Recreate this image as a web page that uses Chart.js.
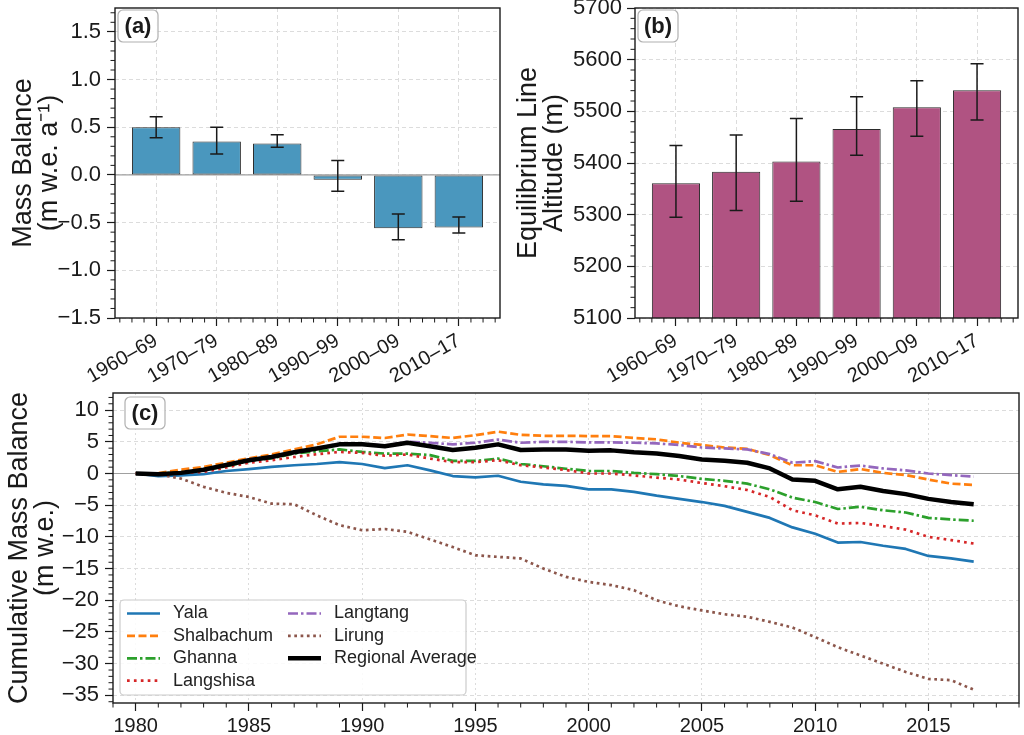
<!DOCTYPE html>
<html>
<head>
<meta charset="utf-8">
<script src="https://cdn.jsdelivr.net/npm/chart.js@4.4.0/dist/chart.umd.min.js"></script>
<style>
  body { margin: 0; background: #fff; width: 1024px; height: 735px; overflow: hidden; position: relative; }
  canvas { position: absolute; }
</style>
</head>
<body>
<canvas id="chartA" width="512" height="385" style="left:0;top:0"></canvas>
<canvas id="chartB" width="512" height="385" style="left:512px;top:0"></canvas>
<canvas id="chartC" width="1024" height="350" style="left:0;top:385px"></canvas>
<script>
// ---------- data ----------
var decades = ['1960–69', '1970–79', '1980–89', '1990–99', '2000–09', '2010–17'];
var decadePos = [0, 1, 2, 3, 4, 5];

// (a) decadal mass balance + error range
var massBalance = [0.50, 0.35, 0.33, -0.05, -0.56, -0.55];
var massBalanceLow = [0.39, 0.22, 0.29, -0.17, -0.68, -0.61];
var massBalanceHigh = [0.61, 0.50, 0.42, 0.15, -0.41, -0.44];

// (b) equilibrium line altitude + error range
var ela = [5361, 5383, 5403, 5466, 5508, 5541];
var elaLow = [5295, 5308, 5326, 5415, 5452, 5483];
var elaHigh = [5434, 5454, 5486, 5528, 5559, 5592];

// tick labels
var mbTicks = [-1.5, -1.0, -0.5, 0.0, 0.5, 1.0, 1.5];
var elaTicks = [5100, 5200, 5300, 5400, 5500, 5600, 5700];
var cumTicks = [-35, -30, -25, -20, -15, -10, -5, 0, 5, 10];
var yearTicks = [1980, 1985, 1990, 1995, 2000, 2005, 2010, 2015];

// (c) cumulative mass balance per glacier
var years = [1980, 1981, 1982, 1983, 1984, 1985, 1986, 1987, 1988, 1989,
             1990, 1991, 1992, 1993, 1994, 1995, 1996, 1997, 1998, 1999,
             2000, 2001, 2002, 2003, 2004, 2005, 2006, 2007, 2008, 2009,
             2010, 2011, 2012, 2013, 2014, 2015, 2016, 2017];
var yala = [0, -0.4, -0.3, -0.1, 0.4, 0.7, 1.05, 1.3, 1.5, 1.8,
            1.5, 0.85, 1.3, 0.5, -0.4, -0.6, -0.35, -1.3, -1.7, -1.95,
            -2.5, -2.5, -2.9, -3.5, -4.0, -4.5, -5.1, -6.05, -7.0, -8.5,
            -9.5, -10.9, -10.8, -11.4, -11.9, -13.0, -13.4, -13.9];
var shalbachum = [0, 0.05, 0.6, 1.05, 1.7, 2.4, 3.0, 3.8, 4.6, 5.8,
                  5.8, 5.6, 6.15, 5.9, 5.6, 6.05, 6.6, 6.1, 5.95, 5.95,
                  5.9, 5.9, 5.6, 5.4, 4.85, 4.5, 4.1, 3.9, 2.9, 1.3,
                  1.3, 0.25, 0.7, 0.1, -0.25, -0.95, -1.6, -1.8];
var ghanna = [0, 0, 0.2, 0.5, 1.15, 2.0, 2.4, 3.15, 3.5, 3.8,
              3.4, 3.15, 3.15, 2.9, 2.0, 2.0, 2.35, 1.5, 1.15, 0.75,
              0.4, 0.4, 0.1, -0.1, -0.4, -0.85, -1.15, -1.6, -2.5, -3.8,
              -4.5, -5.6, -5.25, -5.8, -6.15, -7.0, -7.25, -7.45];
var langshisa = [0, 0, 0.1, 0.25, 0.95, 1.7, 2.1, 2.6, 3.05, 3.4,
                 3.25, 2.8, 3.0, 2.35, 1.8, 1.8, 2.1, 1.3, 0.95, 0.55,
                 0, 0, -0.3, -0.65, -0.95, -1.5, -2.0, -2.6, -3.7, -5.8,
                 -6.6, -7.9, -7.8, -8.3, -8.85, -10.0, -10.5, -11.05];
var langtang = [0, -0.1, 0.1, 0.6, 1.4, 2.2, 2.7, 3.4, 4.0, 4.7,
                4.7, 4.4, 5.0, 4.85, 4.6, 4.85, 5.35, 4.85, 5.0, 5.0,
                4.9, 4.9, 4.85, 4.75, 4.5, 4.1, 3.95, 3.8, 3.05, 1.7,
                1.95, 0.95, 1.25, 0.8, 0.5, 0, -0.25, -0.5];
var lirung = [0, -0.1, -0.8, -2.1, -3.05, -3.7, -4.75, -4.85, -6.6, -8.15,
              -8.95, -8.75, -9.2, -10.4, -11.6, -12.9, -13.15, -13.4, -15.0, -16.3,
              -17.1, -17.6, -18.4, -20.0, -20.95, -21.6, -22.2, -22.6, -23.4, -24.3,
              -25.8, -27.4, -28.7, -30.0, -31.3, -32.4, -32.6, -34.1];
var regional = [0, -0.1, 0.1, 0.6, 1.35, 2.1, 2.6, 3.35, 3.95, 4.6,
                4.6, 4.3, 4.85, 4.3, 3.7, 4.05, 4.6, 3.7, 3.8, 3.8,
                3.6, 3.65, 3.35, 3.15, 2.75, 2.2, 2.0, 1.7, 0.8, -0.95,
                -1.15, -2.5, -2.1, -2.75, -3.25, -4.0, -4.5, -4.85];

// ---------- common stuff ----------
var FONT = '"Liberation Sans", Arial, sans-serif';
Chart.defaults.font.family = FONT;
Chart.defaults.color = '#1a1a1a';

// number with real minus sign like matplotlib
function fmtMinus(v, digits) {
    var s = Math.abs(v).toFixed(digits);
    return v < 0 ? '\u2212' + s : s;
}

// turn a list of values into tick objects
function setTicks(list) {
    return function (scale) {
        scale.ticks = list.map(function (v) { return { value: v }; });
    };
}

// box around axes, zero line, minor ticks, panel letter
var framePlugin = {
    id: 'frame',
    beforeDatasetsDraw: function (chart, args, opts) {
        if (!opts.zeroLine) return;
        var ctx = chart.ctx, a = chart.chartArea;
        var y0 = chart.scales.y.getPixelForValue(0);
        ctx.save();
        ctx.strokeStyle = '#a0a0a0';
        ctx.lineWidth = 1.2;
        ctx.beginPath();
        ctx.moveTo(a.left, y0);
        ctx.lineTo(a.right, y0);
        ctx.stroke();
        ctx.restore();
    },
    afterDraw: function (chart, args, opts) {
        var ctx = chart.ctx, a = chart.chartArea;
        ctx.save();
        ctx.strokeStyle = '#1a1a1a';
        ctx.lineWidth = 1.4;
        ctx.strokeRect(a.left, a.top, a.right - a.left, a.bottom - a.top);

        // minor ticks
        ctx.lineWidth = 1;
        ['x', 'y'].forEach(function (id) {
            var sc = chart.scales[id];
            var step = opts.minor[id], major = opts.major[id];
            var k0 = Math.ceil(sc.min / step - 1e-9), k1 = Math.floor(sc.max / step + 1e-9);
            for (var k = k0; k <= k1; k++) {
                var v = k * step;
                var r = v / major;
                if (Math.abs(r - Math.round(r)) < 1e-6) continue;
                var p = sc.getPixelForValue(v);
                ctx.beginPath();
                if (id === 'x') { ctx.moveTo(p, a.bottom); ctx.lineTo(p, a.bottom + 4.5); }
                else { ctx.moveTo(a.left, p); ctx.lineTo(a.left - 4.5, p); }
                ctx.stroke();
            }
        });

        // panel letter in a rounded box
        var bx = a.left + opts.label.dx, by = a.top + opts.label.dy;
        ctx.beginPath();
        ctx.roundRect(bx, by, 40, 32, 5);
        ctx.fillStyle = 'rgba(255,255,255,0.9)';
        ctx.fill();
        ctx.strokeStyle = '#b0b0b0';
        ctx.lineWidth = 1.2;
        ctx.stroke();
        ctx.fillStyle = '#1a1a1a';
        ctx.font = 'bold 22px ' + FONT;
        ctx.textAlign = 'center';
        ctx.textBaseline = 'middle';
        ctx.fillText(opts.label.text, bx + 20, by + 17);
        ctx.restore();
    }
};

// error bars, limits stored on the dataset (errLow / errHigh)
var errorBarPlugin = {
    id: 'errorBars',
    afterDatasetsDraw: function (chart) {
        var ds = chart.data.datasets[0];
        if (!ds.errLow) return;
        var meta = chart.getDatasetMeta(0), ys = chart.scales.y, ctx = chart.ctx;
        ctx.save();
        ctx.strokeStyle = '#1a1a1a';
        ctx.lineWidth = 1.5;
        meta.data.forEach(function (bar, i) {
            var yl = ys.getPixelForValue(ds.errLow[i]);
            var yh = ys.getPixelForValue(ds.errHigh[i]);
            ctx.beginPath();
            ctx.moveTo(bar.x, yl); ctx.lineTo(bar.x, yh);
            ctx.moveTo(bar.x - 6.5, yl); ctx.lineTo(bar.x + 6.5, yl);
            ctx.moveTo(bar.x - 6.5, yh); ctx.lineTo(bar.x + 6.5, yh);
            ctx.stroke();
        });
        ctx.restore();
    }
};

// legend inside the plot, two columns (matplotlib style)
var boxLegendPlugin = {
    id: 'boxLegend',
    afterDraw: function (chart) {
        var ctx = chart.ctx, a = chart.chartArea;
        var bx = a.left + 7, by = a.bottom - 103, bw = 346, bh = 95;
        ctx.save();
        ctx.beginPath();
        ctx.roundRect(bx, by, bw, bh, 4);
        ctx.fillStyle = 'rgba(255,255,255,0.85)';
        ctx.fill();
        ctx.strokeStyle = '#cccccc';
        ctx.lineWidth = 1.2;
        ctx.stroke();
        ctx.font = '18px ' + FONT;
        ctx.textBaseline = 'middle';
        ctx.textAlign = 'left';
        chart.data.datasets.forEach(function (ds, i) {
            var col = i < 4 ? 0 : 1, row = i < 4 ? i : i - 4;
            var x = bx + 7 + col * 161, y = by + 13.5 + row * 22.4;
            ctx.save();
            ctx.strokeStyle = ds.borderColor;
            ctx.lineWidth = ds.borderWidth;
            ctx.setLineDash(ds.borderDash || []);
            ctx.beginPath();
            ctx.moveTo(x, y);
            ctx.lineTo(x + 33, y);
            ctx.stroke();
            ctx.restore();
            ctx.fillStyle = '#222';
            ctx.fillText(ds.label, x + 46, y);
        });
        ctx.restore();
    }
};

var gridOpts = { color: '#dcdcdc', lineWidth: 1, tickColor: '#1a1a1a', tickLength: 8, tickWidth: 1.2, tickBorderDash: [] };
var borderOpts = { display: false, dash: [4, 3] };

// x axis for the two decade bar panels
function decadeAxis(canvasH) {
    return {
        type: 'linear', min: -0.68, max: 5.68, offset: false,
        afterBuildTicks: setTicks(decadePos),
        ticks: {
            callback: function (v) { return decades[v]; },
            minRotation: 30, maxRotation: 30, autoSkip: false,
            font: { size: 20 }, padding: 3, color: '#1a1a1a'
        },
        grid: Object.assign({ offset: false }, gridOpts),
        border: borderOpts,
        afterFit: function (s) { s.height = canvasH - 318; s.paddingLeft = 0; s.paddingRight = 0; }
    };
}

// ---------- (a) mass balance ----------
function chartMassBalance() {
    var ctx = document.getElementById('chartA').getContext('2d');
    new Chart(ctx, {
        type: 'bar',
        data: {
            datasets: [{
                data: decadePos.map(function (p, i) { return { x: p, y: massBalance[i] }; }),
                errLow: massBalanceLow,
                errHigh: massBalanceHigh,
                backgroundColor: '#4a97be',
                borderColor: '#2a2a2a',
                borderWidth: 1,
                borderSkipped: false,
                barPercentage: 0.8,
                categoryPercentage: 1
            }]
        },
        options: {
            responsive: false, animation: false, events: [],
            layout: { padding: { top: 8, right: 12, left: 0, bottom: 0 } },
            plugins: {
                legend: { display: false }, tooltip: { enabled: false },
                frame: { zeroLine: true, minor: { x: 0.2, y: 0.1 }, major: { x: 1, y: 0.5 }, label: { text: '(a)', dx: 3, dy: 2 } }
            },
            scales: {
                x: decadeAxis(385),
                y: {
                    min: -1.5, max: 1.75,
                    afterBuildTicks: setTicks(mbTicks),
                    ticks: { callback: function (v) { return fmtMinus(v, 1); }, font: { size: 22 }, padding: 6, color: '#1a1a1a' },
                    grid: gridOpts, border: borderOpts,
                    title: { display: true, text: ['Mass Balance', '(m w.e. a\u207B\u00B9)'], font: { size: 27, lineHeight: 0.95 }, padding: { top: 11, bottom: 0 }, color: '#1a1a1a' },
                    afterFit: function (s) { s.width = 115; s.paddingTop = 0; s.paddingBottom = 0; }
                }
            }
        },
        plugins: [framePlugin, errorBarPlugin]
    });
}

// ---------- (b) ELA ----------
function chartEla() {
    var ctx = document.getElementById('chartB').getContext('2d');
    new Chart(ctx, {
        type: 'bar',
        data: {
            datasets: [{
                data: decadePos.map(function (p, i) { return { x: p, y: ela[i] }; }),
                errLow: elaLow,
                errHigh: elaHigh,
                backgroundColor: '#b05382',
                borderColor: '#2a2a2a',
                borderWidth: 1,
                borderSkipped: false,
                barPercentage: 0.8,
                categoryPercentage: 1
            }]
        },
        options: {
            responsive: false, animation: false, events: [],
            layout: { padding: { top: 8, right: 6, left: 0, bottom: 0 } },
            plugins: {
                legend: { display: false }, tooltip: { enabled: false },
                frame: { zeroLine: false, minor: { x: 0.2, y: 20 }, major: { x: 1, y: 100 }, label: { text: '(b)', dx: 3, dy: 2 } }
            },
            scales: {
                x: decadeAxis(385),
                y: {
                    min: 5100, max: 5700,
                    afterBuildTicks: setTicks(elaTicks),
                    ticks: { callback: function (v) { return String(v); }, font: { size: 22 }, padding: 5, color: '#1a1a1a' },
                    grid: gridOpts, border: borderOpts,
                    title: { display: true, text: ['Equilibrium Line', 'Altitude (m)'], font: { size: 27, lineHeight: 0.95 }, padding: { top: 4, bottom: 0 }, color: '#1a1a1a' },
                    afterFit: function (s) { s.width = 123; s.paddingTop = 0; s.paddingBottom = 0; }
                }
            }
        },
        plugins: [framePlugin, errorBarPlugin]
    });
}

// ---------- (c) cumulative mass balance ----------
function garis(label, values, color, width, dash) {
    return {
        label: label,
        data: years.map(function (yr, i) { return { x: yr, y: values[i] }; }),
        borderColor: color,
        backgroundColor: color,
        borderWidth: width,
        borderDash: dash,
        borderCapStyle: 'butt',
        borderJoinStyle: 'round',
        pointRadius: 0,
        tension: 0,
        fill: false
    };
}

function chartCumulative() {
    var ctx = document.getElementById('chartC').getContext('2d');
    var datasets = [
        garis('Yala', yala, '#1f77b4', 2.7, []),
        garis('Shalbachum', shalbachum, '#ff7f0e', 2.7, [8, 3.5]),
        garis('Ghanna', ghanna, '#2ca02c', 2.7, [10, 3, 2.5, 3]),
        garis('Langshisa', langshisa, '#d62728', 2.7, [2.7, 4.2]),
        garis('Langtang', langtang, '#9467bd', 2.7, [10, 3, 2.5, 3]),
        garis('Lirung', lirung, '#8c564b', 2.7, [2.7, 3.6]),
        garis('Regional Average', regional, '#000000', 4.5, [])
    ];
    // later series on top, like matplotlib
    datasets.forEach(function (d, i) { d.order = datasets.length - i; });

    new Chart(ctx, {
        type: 'line',
        data: { datasets: datasets },
        options: {
            responsive: false, animation: false, events: [],
            layout: { padding: { top: 8, right: 5, left: 0, bottom: 0 } },
            plugins: {
                legend: { display: false }, tooltip: { enabled: false },
                frame: { zeroLine: true, minor: { x: 1, y: 1 }, major: { x: 5, y: 5 }, label: { text: '(c)', dx: 12, dy: 4 } }
            },
            scales: {
                x: {
                    type: 'linear', min: 1979, max: 2019,
                    afterBuildTicks: setTicks(yearTicks),
                    ticks: { callback: function (v) { return String(v); }, font: { size: 20 }, padding: 3, color: '#1a1a1a' },
                    grid: gridOpts, border: { display: false, dash: [2, 3] },
                    afterFit: function (s) { s.height = 350 - 318; s.paddingLeft = 0; s.paddingRight = 0; }
                },
                y: {
                    min: -36.2, max: 12.7,
                    afterBuildTicks: setTicks(cumTicks),
                    ticks: { callback: function (v) { return fmtMinus(v, 0); }, font: { size: 22 }, padding: 6, color: '#1a1a1a' },
                    grid: gridOpts, border: borderOpts,
                    title: { display: true, text: ['Cumulative Mass Balance', '(m w.e.)'], font: { size: 27, lineHeight: 0.95 }, padding: { top: 7, bottom: 0 }, color: '#1a1a1a' },
                    afterFit: function (s) { s.width = 113; s.paddingTop = 0; s.paddingBottom = 0; }
                }
            }
        },
        plugins: [framePlugin, boxLegendPlugin]
    });
}

chartMassBalance();
chartEla();
chartCumulative();
</script>
</body>
</html>
